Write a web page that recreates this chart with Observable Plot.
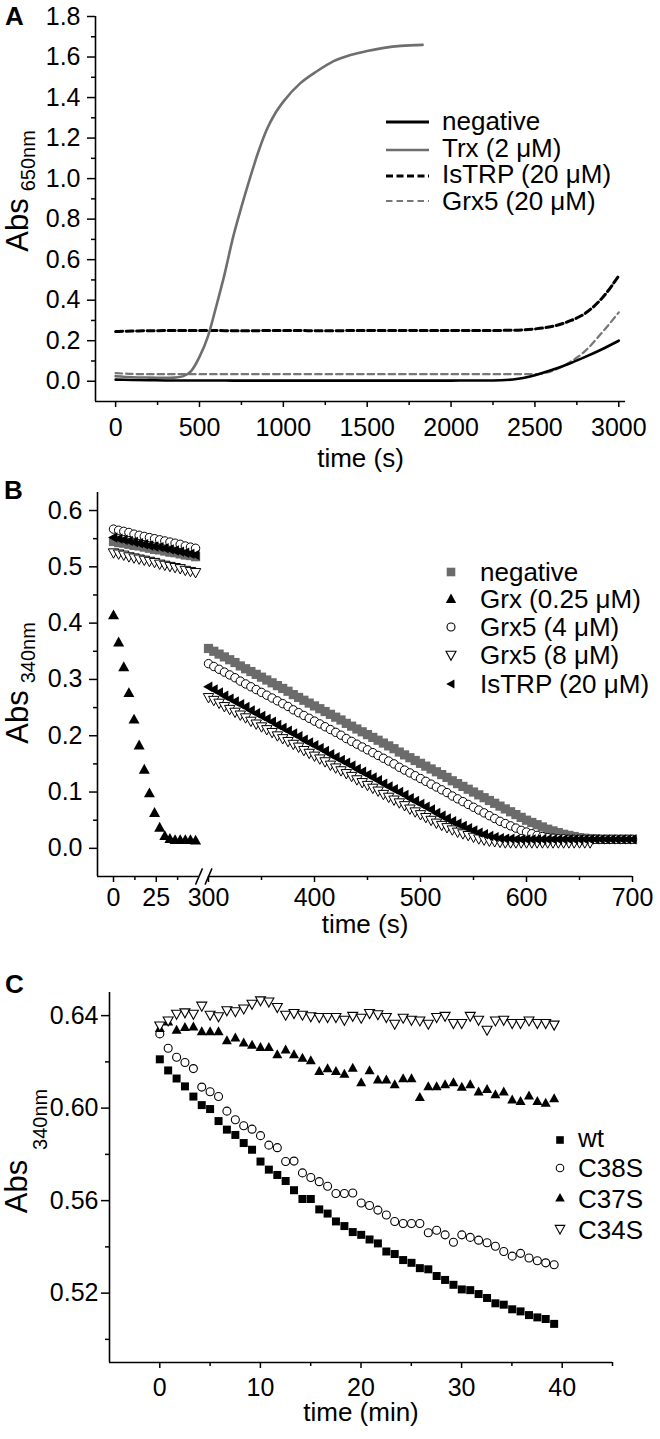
<!DOCTYPE html>
<html><head><meta charset="utf-8">
<script src="https://cdn.jsdelivr.net/npm/d3@7"></script>
<script src="https://cdn.jsdelivr.net/npm/@observablehq/plot@0.6"></script>
<style>
body{margin:0;background:#fff}
#fig{position:relative;width:660px;height:1439px;background:#fff}
#fig svg{position:absolute;left:0}
</style>
</head><body><div id="fig"></div>
<script>
const FONT = "'Liberation Sans', Arial, Helvetica, sans-serif";

// ---------------- Panel A data ----------------
const timeA = [0,100,200,300,400,500,600,700,800,900,1000,1100,1200,1300,1400,1500,1600,1700,1800,1900,2000,2100,2200,2300,2400,2500,2600,2700,2800,2900,3000];
const negA   = [0.008,0.006,0.005,0.004,0.004,0.004,0.004,0.003,0.003,0.003,0.003,0.003,0.003,0.003,0.003,0.003,0.003,0.003,0.003,0.003,0.003,0.004,0.004,0.005,0.012,0.030,0.055,0.085,0.120,0.158,0.200];
const istrpA = [0.245,0.248,0.249,0.250,0.250,0.250,0.250,0.249,0.249,0.250,0.250,0.250,0.249,0.249,0.250,0.250,0.251,0.251,0.250,0.250,0.250,0.251,0.251,0.251,0.252,0.258,0.270,0.295,0.335,0.410,0.520];
const grx5A  = [0.040,0.036,0.035,0.035,0.035,0.035,0.035,0.035,0.035,0.035,0.035,0.035,0.035,0.035,0.035,0.035,0.035,0.035,0.035,0.035,0.035,0.035,0.035,0.035,0.035,0.035,0.050,0.090,0.150,0.240,0.340];
const timeTrx = [0,100,200,300,350,400,450,500,550,600,650,700,750,800,850,900,950,1000,1100,1200,1300,1400,1500,1600,1700,1830];
const trxA    = [0.025,0.020,0.018,0.017,0.018,0.024,0.050,0.120,0.220,0.370,0.530,0.710,0.860,1.000,1.130,1.240,1.320,1.380,1.470,1.530,1.580,1.610,1.630,1.645,1.655,1.660];
const seriesA = ["negative","Trx (2 \u03bcM)","IsTRP (20 \u03bcM)","Grx5 (20 \u03bcM)"];
const yMajorA = [0,0.2,0.4,0.6,0.8,1.0,1.2,1.4,1.6,1.8];
const yMinorA = [0.1,0.3,0.5,0.7,0.9,1.1,1.3,1.5,1.7];
const xMajorA = [0,500,1000,1500,2000,2500,3000];
const xMinorA = [250,750,1250,1750,2250,2750];

// ---------------- Panel B data ----------------
const tB1 = [0,3,6,9,12,15,18,21,24,27,30,33,36,39,42,45,48];
const tB2 = [300,305,310,315,320,325,330,335,340,345,350,355,360,365,370,375,380,385,390,395,
  400,405,410,415,420,425,430,435,440,445,450,455,460,465,470,475,480,485,490,495,
  500,505,510,515,520,525,530,535,540,545,550,555,560,565,570,575,580,585,590,595,
  600,605,610,615,620,625,630,635,640,645,650,655,660,665,670,675,680,685,690,695,700];
const negB1   = [0.545,0.543,0.542,0.540,0.538,0.537,0.535,0.533,0.531,0.530,0.528,0.526,0.525,0.523,0.521,0.520,0.518];
const grxB1   = [0.414,0.366,0.322,0.276,0.229,0.183,0.140,0.098,0.063,0.037,0.022,0.017,0.015,0.015,0.015,0.015,0.014];
const grx4B1  = [0.567,0.565,0.563,0.561,0.558,0.556,0.554,0.552,0.550,0.548,0.546,0.544,0.542,0.540,0.537,0.535,0.533];
const grx8B1  = [0.525,0.523,0.521,0.518,0.516,0.514,0.512,0.510,0.508,0.505,0.503,0.501,0.499,0.497,0.494,0.492,0.490];
const istrpB1 = [0.552,0.550,0.548,0.546,0.544,0.542,0.540,0.538,0.536,0.535,0.533,0.531,0.529,0.527,0.525,0.523,0.521];
const negB2 = [0.355,0.350,0.345,0.340,0.335,0.330,0.324,0.319,0.314,0.309,
 0.304,0.299,0.294,0.289,0.284,0.279,0.273,0.268,0.263,0.258,
 0.253,0.248,0.243,0.238,0.233,0.228,0.222,0.217,0.212,0.207,
 0.202,0.197,0.192,0.187,0.182,0.177,0.171,0.166,0.161,0.156,
 0.151,0.146,0.141,0.136,0.131,0.126,0.120,0.115,0.110,0.105,
 0.100,0.095,0.090,0.085,0.080,0.075,0.070,0.065,0.060,0.055,
 0.050,0.046,0.042,0.038,0.034,0.031,0.028,0.025,0.023,0.021,
 0.019,0.018,0.017,0.017,0.016,0.016,0.016,0.016,0.016,0.016,0.016];
const grx4B2 = [0.328,0.323,0.318,0.313,0.308,0.303,0.297,0.292,0.287,0.282,
 0.277,0.272,0.267,0.262,0.257,0.252,0.246,0.241,0.236,0.231,
 0.226,0.221,0.216,0.211,0.206,0.201,0.195,0.190,0.185,0.180,
 0.175,0.170,0.165,0.160,0.155,0.150,0.144,0.139,0.134,0.129,
 0.124,0.119,0.114,0.109,0.104,0.099,0.093,0.088,0.083,0.078,
 0.073,0.068,0.063,0.058,0.053,0.048,0.044,0.040,0.036,0.032,
 0.029,0.026,0.023,0.021,0.019,0.018,0.017,0.017,0.016,0.016,
 0.016,0.016,0.016,0.016,0.016,0.016,0.016,0.016,0.016,0.016,0.016];
const grx8B2 = [0.268,0.263,0.258,0.252,0.247,0.242,0.237,0.232,0.226,0.221,
 0.216,0.211,0.206,0.200,0.195,0.190,0.185,0.180,0.174,0.169,
 0.164,0.159,0.154,0.148,0.143,0.138,0.133,0.128,0.122,0.117,
 0.112,0.107,0.102,0.096,0.091,0.086,0.081,0.076,0.070,0.065,
 0.060,0.055,0.050,0.045,0.041,0.037,0.033,0.029,0.026,0.023,
 0.020,0.017,0.015,0.013,0.012,0.011,0.010,0.010,0.010,0.010,
 0.010,0.010,0.010,0.010,0.010,0.010,0.010,0.010,0.010,0.010,
 0.010,0.010,0.010];
const istrpB2 = [0.287,0.282,0.277,0.271,0.266,0.261,0.256,0.251,0.245,0.240,
 0.235,0.230,0.225,0.219,0.214,0.209,0.204,0.199,0.193,0.188,
 0.183,0.178,0.173,0.167,0.162,0.157,0.152,0.147,0.141,0.136,
 0.131,0.126,0.121,0.115,0.110,0.105,0.100,0.095,0.089,0.084,
 0.079,0.074,0.069,0.063,0.058,0.053,0.048,0.044,0.040,0.036,
 0.032,0.028,0.025,0.022,0.020,0.018,0.017,0.017,0.016,0.016,
 0.016,0.016,0.016,0.016,0.016,0.016,0.016,0.016,0.016,0.016,
 0.016,0.016,0.016,0.016,0.016,0.016,0.016,0.016,0.016,0.016,0.016];
const seriesB = ["negative","Grx (0.25 \u03bcM)","Grx5 (4 \u03bcM)","Grx5 (8 \u03bcM)","IsTRP (20 \u03bcM)"];
const yMajorB = [0,0.1,0.2,0.3,0.4,0.5,0.6];
const yMinorB = [0.05,0.15,0.25,0.35,0.45,0.55];
const xMajorB = [0,25,300,400,500,600,700];
const xMinorB = [12.5,37.5,350,450,550,650];
const axisBreaks = [50,300];

// ---------------- Panel C data ----------------
const tC = [0,0.83,1.67,2.50,3.34,4.17,5.00,5.84,6.67,7.51,8.34,9.17,10.01,10.84,11.68,12.51,13.34,14.18,15.01,15.85,16.68,17.51,18.35,19.18,20.02,20.85,21.68,22.52,23.35,24.19,25.02,25.85,26.69,27.52,28.36,29.19,30.02,30.86,31.69,32.53,33.36,34.19,35.03,35.86,36.70,37.53,38.36,39.20];
const wtC = [0.6211,0.6163,0.6128,0.6094,0.6050,0.6013,0.5996,0.5944,0.5907,0.5884,
 0.5849,0.5820,0.5769,0.5734,0.5711,0.5685,0.5645,0.5607,0.5607,0.5562,
 0.5544,0.5510,0.5490,0.5464,0.5452,0.5432,0.5415,0.5380,0.5369,0.5343,
 0.5331,0.5308,0.5303,0.5274,0.5257,0.5236,0.5216,0.5213,0.5196,0.5179,
 0.5156,0.5150,0.5130,0.5121,0.5105,0.5095,0.5088,0.5067];
const c38C = [0.6321,0.6259,0.6220,0.6197,0.6171,0.6091,0.6071,0.6050,0.5987,0.5950,
 0.5924,0.5909,0.5881,0.5840,0.5829,0.5769,0.5771,0.5720,0.5700,0.5682,
 0.5662,0.5631,0.5631,0.5633,0.5590,0.5579,0.5559,0.5538,0.5510,0.5501,
 0.5501,0.5501,0.5461,0.5472,0.5452,0.5420,0.5452,0.5441,0.5429,0.5418,
 0.5403,0.5380,0.5360,0.5372,0.5352,0.5340,0.5331,0.5323];
const c37C = [0.6345,0.6374,0.6338,0.6350,0.6352,0.6331,0.6331,0.6331,0.6292,0.6304,
 0.6283,0.6273,0.6263,0.6263,0.6232,0.6252,0.6232,0.6217,0.6206,0.6160,
 0.6171,0.6160,0.6148,0.6174,0.6111,0.6163,0.6123,0.6123,0.6102,0.6128,
 0.6128,0.6047,0.6094,0.6094,0.6102,0.6111,0.6091,0.6102,0.6071,0.6082,
 0.6059,0.6071,0.6036,0.6030,0.6053,0.6030,0.6022,0.6042];
const c34C = [0.6356,0.6378,0.6407,0.6413,0.6407,0.6442,0.6403,0.6396,0.6422,0.6418,
 0.6430,0.6450,0.6465,0.6460,0.6436,0.6403,0.6410,0.6403,0.6396,0.6393,
 0.6393,0.6393,0.6381,0.6398,0.6390,0.6410,0.6405,0.6393,0.6364,0.6390,
 0.6381,0.6378,0.6364,0.6393,0.6398,0.6367,0.6367,0.6398,0.6381,0.6338,
 0.6378,0.6381,0.6367,0.6367,0.6378,0.6367,0.6367,0.6360];
const seriesC = ["wt","C38S","C37S","C34S"];
const yMajorC = [0.52,0.56,0.60,0.64];
const yMinorC = [0.50,0.54,0.58,0.62];
const xMajorC = [0,10,20,30,40];
const xMinorC = [5,15,25,35,45];

// ---------------- helpers ----------------
const fig = document.getElementById("fig");
const GRAY = "#6b6b6b";
const h = s => Math.sqrt(s / Math.PI);
const SYM = {
  square: {draw(c, s) { const r = h(s); c.rect(-r, -r, 2 * r, 2 * r); }},
  circle: {draw(c, s) { const r = h(s); c.moveTo(r, 0); c.arc(0, 0, r, 0, 2 * Math.PI); }},
  up:     {draw(c, s) { const r = h(s); c.moveTo(0, -r * 1.05); c.lineTo(r, r * 0.75); c.lineTo(-r, r * 0.75); c.closePath(); }},
  down:   {draw(c, s) { const r = h(s); c.moveTo(0, r * 1.05); c.lineTo(r, -r * 0.75); c.lineTo(-r, -r * 0.75); c.closePath(); }},
  left:   {draw(c, s) { const r = h(s); c.moveTo(-r * 1.05, 0); c.lineTo(r * 0.75, -r); c.lineTo(r * 0.75, r); c.closePath(); }}
};
function place(svg, top) { svg.style.top = top + "px"; fig.appendChild(svg); return d3.select(svg); }
function yTitle(sel, x, y, sub, subDx, subDy) {
  const t = sel.append("text").attr("transform", `translate(${x},${y}) rotate(-90)`)
    .attr("text-anchor", "middle").attr("font-family", FONT).attr("fill", "black");
  t.append("tspan").attr("font-size", 31).text("Abs");
  t.append("tspan").attr("font-size", 20).attr("dx", subDx).attr("dy", subDy).text(sub);
}
function panelLabel(sel, x, y, s) {
  sel.append("text").attr("x", x).attr("y", y).attr("text-anchor", "start").attr("font-family", FONT)
    .attr("font-weight", "bold").attr("font-size", 26).attr("fill", "black").text(s);
}
function legendText(sel, x, y, s) {
  sel.append("text").attr("x", x).attr("y", y).attr("dy", "0.35em").attr("text-anchor", "start")
    .attr("font-family", FONT).attr("font-size", 26).attr("fill", "black").text(s);
}
function legendSym(sel, x, y, sym, r, fill, stroke) {
  sel.append("path").attr("transform", `translate(${x},${y})`).attr("d", d3.symbol(sym, Math.PI * r * r)())
    .attr("fill", fill).attr("stroke", stroke).attr("stroke-width", 1.1);
}
function axes({xMajor, xMinor, yMajor, yMinor, xFmt, yFmt, xPad, yPad, xLab}) {
  const common = {strokeWidth: 1.5, label: null, fontSize: 25};
  const xm = xLab ? xMajor.map(xLab) : xMajor;
  const xn = xLab ? xMinor.map(xLab) : xMinor;
  return [
    Plot.axisY(yMajor, {...common, tickSize: 8, tickPadding: yPad, tickFormat: yFmt}),
    Plot.axisY(yMinor, {...common, tickSize: 4, tickFormat: () => ""}),
    Plot.axisX(xm, {...common, tickSize: 6, tickPadding: xPad, tickFormat: xFmt}),
    Plot.axisX(xn, {...common, tickSize: 4, tickFormat: () => ""})
  ];
}

// ---------------- Panel A ----------------
const xDomA = [-120, 3040], yDomA = [-0.1, 1.8];
const svgA = Plot.plot({
  width: 660, height: 480, marginLeft: 95, marginRight: 35, marginTop: 16, marginBottom: 79,
  x: {domain: xDomA}, y: {domain: yDomA},
  style: {fontFamily: FONT, background: "transparent", overflow: "visible", color: "black"},
  marks: [
    Plot.ruleX([xDomA[0]], {strokeWidth: 1.6}),
    Plot.ruleY([yDomA[0]], {strokeWidth: 1.6}),
    ...axes({xMajor: xMajorA, xMinor: xMinorA, yMajor: yMajorA, yMinor: yMinorA,
      xFmt: d => String(d), yFmt: d3.format(".1f"), xPad: 11, yPad: 7}),
    Plot.text(["time (s)"], {frameAnchor: "bottom", dy: 65, fontSize: 26}),
    Plot.lineY(grx5A, {x: timeA, stroke: "#777", strokeWidth: 2.2, strokeDasharray: "6.5,4", curve: "monotone-x"}),
    Plot.lineY(istrpA, {x: timeA, stroke: "black", strokeWidth: 3, strokeDasharray: "7,3.5", curve: "monotone-x"}),
    Plot.lineY(negA, {x: timeA, stroke: "black", strokeWidth: 2.6, curve: "monotone-x"}),
    Plot.lineY(trxA, {x: timeTrx, stroke: "#6e6e6e", strokeWidth: 2.6, curve: "monotone-x"})
  ]
});
const sA = place(svgA, 0);
panelLabel(sA, 5, 25, "A");
yTitle(sA, 28, 191, "650nm", 7, 7);
[["black", 3, null], ["#6e6e6e", 2.6, null], ["black", 3, "7,3.5"], ["#777", 2.2, "6.5,4"]].forEach(([c, w, d], i) => {
  const y = [122, 150, 176, 201][i];
  sA.append("line").attr("x1", 386).attr("x2", 429).attr("y1", y).attr("y2", y)
    .attr("stroke", c).attr("stroke-width", w).attr("stroke-dasharray", d);
  legendText(sA, 442, [121, 148, 174, 201][i], seriesA[i]);
});

// ---------------- Panel B (broken time axis) ----------------
const brk = t => t < 150 ? t * 1.71 : 95 + (t - 300) * 1.06;   // axis-break scale transform
const xDomB = [-16, 519], yDomB = [-0.05, 0.632];
const labB = new Map(xMajorB.map(t => [brk(t), String(t)]));
const dotB = (vals, times, o) => Plot.dot(vals, {x: times.map(brk), y: d => d, ...o});
const svgB = Plot.plot({
  width: 660, height: 470, marginLeft: 97, marginRight: 28, marginTop: 12, marginBottom: 74,
  x: {domain: xDomB}, y: {domain: yDomB},
  style: {fontFamily: FONT, background: "transparent", overflow: "visible", color: "black"},
  marks: [
    Plot.ruleX([xDomB[0]], {strokeWidth: 1.6}),
    Plot.ruleY([[xDomB[0], brk(axisBreaks[0])], [brk(axisBreaks[1]), xDomB[1]]],
      {y: () => yDomB[0], x1: d => d[0], x2: d => d[1], strokeWidth: 1.6}),
    Plot.link(axisBreaks, {x1: d => brk(d) - 3.5, x2: d => brk(d) + 3.5,
      y1: () => yDomB[0] - 0.0145, y2: () => yDomB[0] + 0.0145, strokeWidth: 1.5}),
    ...axes({xMajor: xMajorB, xMinor: xMinorB, yMajor: yMajorB, yMinor: yMinorB,
      xFmt: d => labB.get(d), yFmt: d3.format(".1f"), xPad: 6, yPad: 7, xLab: brk}),
    Plot.text(["time (s)"], {frameAnchor: "bottom", dy: 56, fontSize: 26}),
    dotB(negB1, tB1, {symbol: SYM.square, r: 4.6, fill: GRAY, stroke: "none"}),
    dotB(negB2, tB2, {symbol: SYM.square, r: 4.6, fill: GRAY, stroke: "none"}),
    dotB(grxB1, tB1, {symbol: SYM.up, r: 5.5, fill: "black", stroke: "none"}),
    dotB(grx4B1, tB1, {symbol: SYM.circle, r: 4.2, fill: "white", stroke: "black", strokeWidth: 1}),
    dotB(grx4B2, tB2, {symbol: SYM.circle, r: 4.2, fill: "white", stroke: "black", strokeWidth: 1}),
    dotB(grx8B1, tB1, {symbol: SYM.down, r: 5.2, fill: "white", stroke: "black", strokeWidth: 1}),
    dotB(grx8B2, tB2.slice(0, grx8B2.length), {symbol: SYM.down, r: 5.2, fill: "white", stroke: "black", strokeWidth: 1}),
    dotB(istrpB1, tB1, {symbol: SYM.left, r: 5.2, fill: "black", stroke: "none"}),
    dotB(istrpB2, tB2, {symbol: SYM.left, r: 5.2, fill: "black", stroke: "none"})
  ]
});
const sB = place(svgB, 480);
panelLabel(sB, 4, 19, "B");
yTitle(sB, 28, 203, "340nm", 7, 7);
const legB = [[SYM.square, 4.3, GRAY, "none"], [SYM.up, 5.2, "black", "none"], [SYM.circle, 4, "white", "black"],
  [SYM.down, 5, "white", "black"], [SYM.left, 4.6, "black", "none"]];
legB.forEach(([s, r, f, st], i) => {
  const y = [92, 119, 147, 175, 204][i];
  legendSym(sB, 451, y, s, r, f, st);
  legendText(sB, 480, y, seriesB[i]);
});

// ---------------- Panel C ----------------
const xDomC = [-5, 45], yDomC = [0.49, 0.65];
const dotC = (vals, o) => Plot.dot(vals, {x: tC, y: d => d, ...o});
const svgC = Plot.plot({
  width: 660, height: 489, marginLeft: 109, marginRight: 48, marginTop: 42, marginBottom: 77,
  x: {domain: xDomC}, y: {domain: yDomC},
  style: {fontFamily: FONT, background: "transparent", overflow: "visible", color: "black"},
  marks: [
    Plot.ruleX([xDomC[0]], {strokeWidth: 1.6}),
    Plot.ruleY([yDomC[0]], {strokeWidth: 1.6}),
    ...axes({xMajor: xMajorC, xMinor: xMinorC, yMajor: yMajorC, yMinor: yMinorC,
      xFmt: d => String(d), yFmt: d3.format(".2f"), xPad: 10, yPad: 3}),
    Plot.text(["time (min)"], {frameAnchor: "bottom", dy: 58, fontSize: 26}),
    dotC(wtC, {symbol: SYM.square, r: 4, fill: "black", stroke: "none"}),
    dotC(c38C, {symbol: SYM.circle, r: 4, fill: "white", stroke: "black", strokeWidth: 1.1}),
    dotC(c37C, {symbol: SYM.up, r: 5, fill: "black", stroke: "none"}),
    dotC(c34C, {symbol: SYM.down, r: 5, fill: "white", stroke: "black", strokeWidth: 1.1})
  ]
});
const sC = place(svgC, 950);
panelLabel(sC, 5, 43, "C");
yTitle(sC, 27, 201, "340nm", 10, 20);
const legC = [[SYM.square, 3.8, "black", "none"], [SYM.circle, 3.8, "white", "black"], [SYM.up, 4.8, "black", "none"], [SYM.down, 4.8, "white", "black"]];
legC.forEach(([s, r, f, st], i) => {
  legendSym(sC, 560, [190, 218, 248, 279][i], s, r, f, st);
  legendText(sC, 578, [188, 218, 249, 280][i], seriesC[i]);
});
</script>
</body></html>
